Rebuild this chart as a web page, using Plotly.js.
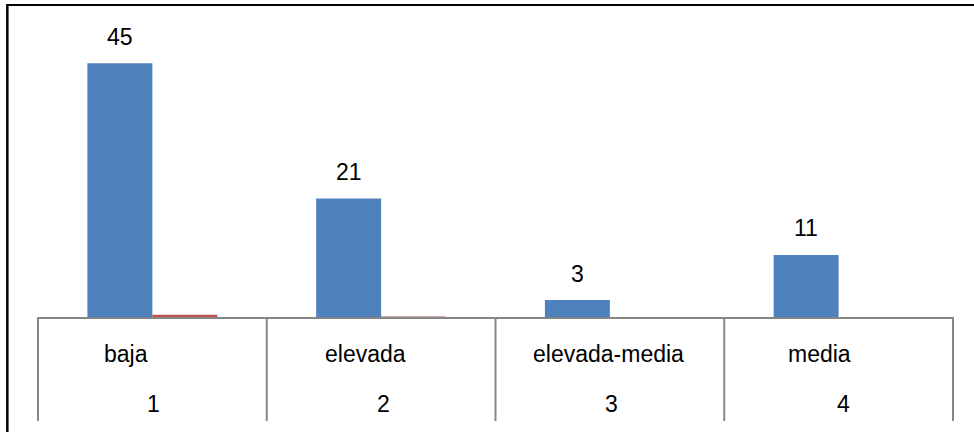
<!DOCTYPE html>
<html>
<head>
<meta charset="utf-8">
<script src="https://cdn.plot.ly/plotly-3.0.1.min.js"></script>
<style>
  html, body { margin: 0; padding: 0; background: #ffffff; }
  #chart { width: 974px; height: 432px; }
</style>
</head>
<body>
<div id="chart"></div>
<script>
// ---- data ----
const categories = ["baja", "elevada", "elevada-media", "media"];
const rowNumbers = ["1", "2", "3", "4"];
const series1 = [45, 21, 3, 11];
const series2 = [0.4, 0.1, 0, 0];

// ---- style ----
const FONT = "Liberation Sans, Arial, sans-serif";
const BLUE = "#4F81BD";
const RED = "#C0504D";
const GRID = "#868686";
const labelShift = [-26, -16, -1, -19];   // horizontal nudges of category labels (px)
const numberShift = [1, 2, 2, 5];
const bargap = 0.432;
const barOffset = (1 - bargap) / 4;       // centre of first bar of a group, in category units

const idx = categories.map((c, i) => i);

const traces = [
  { type: "bar", x: idx, y: series1, marker: { color: BLUE }, name: "Serie 1", hoverinfo: "x+y" },
  { type: "bar", x: idx, y: series2, marker: { color: RED }, name: "Serie 2", hoverinfo: "x+y" }
];

const annotations = [];
series1.forEach((v, i) => {
  annotations.push({
    xref: "x", yref: "y", x: i - barOffset, y: v, text: String(v),
    showarrow: false, yanchor: "middle", yshift: 26.5,
    font: { family: FONT, size: 23, color: "#000000" }
  });
});
categories.forEach((c, i) => {
  annotations.push({
    xref: "x", yref: "paper", x: i, y: -0.131, text: c,
    showarrow: false, yanchor: "middle", xshift: labelShift[i],
    font: { family: FONT, size: 23, color: "#000000" }
  });
  annotations.push({
    xref: "x", yref: "paper", x: i, y: -0.309, text: rowNumbers[i],
    showarrow: false, yanchor: "middle", xshift: numberShift[i],
    font: { family: FONT, size: 23, color: "#000000" }
  });
});

const shapes = [];
for (let i = 0; i <= categories.length; i++) {
  shapes.push({
    type: "line", xref: "paper", yref: "paper",
    x0: i / categories.length, x1: i / categories.length, y0: 0, y1: -0.369,
    line: { color: GRID, width: 2 }
  });
}
// outer chart border (left and top only)
shapes.push({ type: "line", xref: "paper", yref: "paper", x0: -0.0335, x1: -0.0335, y0: 1.1064, y1: -0.45,
  line: { color: "#000000", width: 2.5 } });
shapes.push({ type: "line", xref: "paper", yref: "paper", x0: -0.0349, x1: 1.05, y0: 1.1064, y1: 1.1064,
  line: { color: "#000000", width: 2 } });

const layout = {
  width: 974, height: 432,
  margin: { l: 38, r: 21, t: 35, b: 115, pad: 0 },
  paper_bgcolor: "#ffffff", plot_bgcolor: "#ffffff",
  showlegend: false,
  barmode: "group", bargap: bargap, bargroupgap: 0,
  xaxis: {
    type: "linear", range: [-0.5, categories.length - 0.5],
    showticklabels: false, ticks: "", showgrid: false, zeroline: false,
    showline: true, linecolor: GRID, linewidth: 2, fixedrange: true
  },
  yaxis: { range: [0, 50], visible: false, fixedrange: true },
  annotations: annotations,
  shapes: shapes,
  font: { family: FONT, size: 23, color: "#000000" }
};

Plotly.newPlot("chart", traces, layout, { displayModeBar: false, staticPlot: true });
</script>
</body>
</html>
